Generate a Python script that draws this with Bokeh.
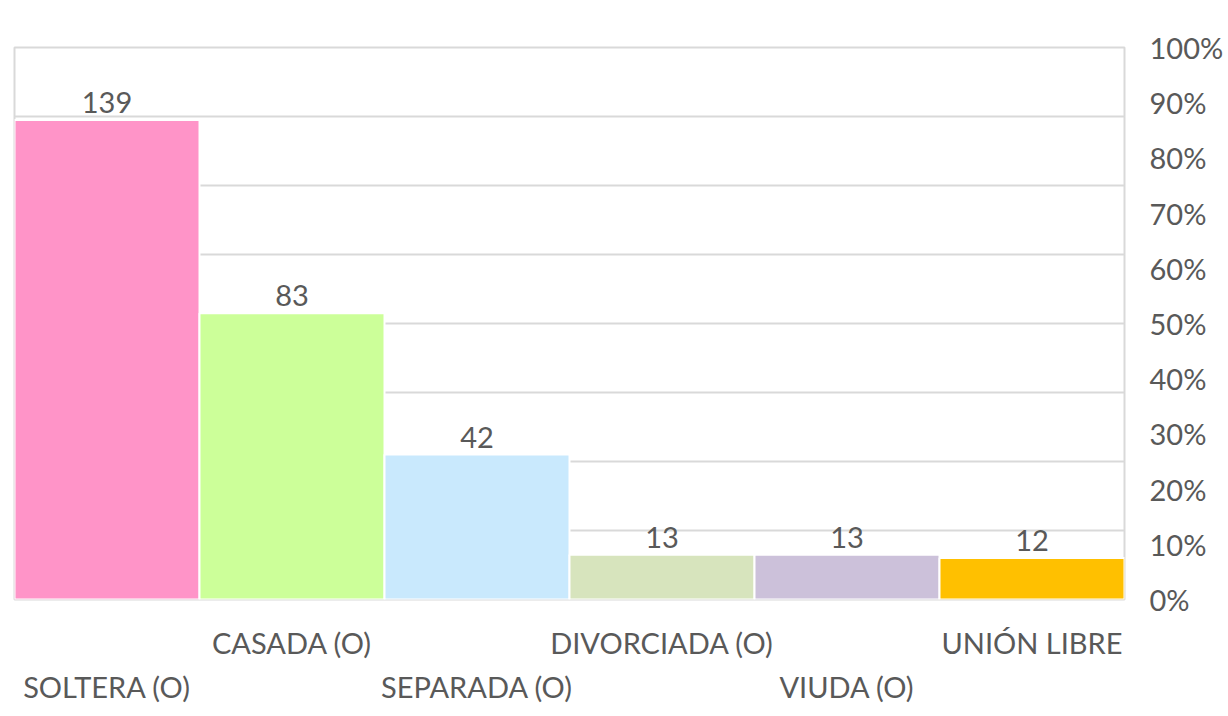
from bokeh.plotting import figure
from bokeh.models import (Range1d, LinearAxis, FixedTicker, NumeralTickFormatter,
                          ColumnDataSource, Grid, SingleIntervalTicker)
from bokeh.core.properties import value
from bokeh.embed import file_html
from bokeh.resources import INLINE

categories = ["SOLTERA (O)", "CASADA (O)", "SEPARADA (O)", "DIVORCIADA (O)", "VIUDA (O)", "UNIÓN LIBRE"]
counts = [139, 83, 42, 13, 13, 12]
colors = ["#FF94C8", "#CCFF99", "#C9E9FD", "#D7E4BD", "#CCC1DA", "#FFC000"]
count_max = 160
count_step = 20
pct_ticks = [0.0, 0.1, 0.2, 0.3, 0.4, 0.5, 0.6, 0.7, 0.8, 0.9, 1.0]

FONT = "Lato"
FS = "29px"
TXT = "#595959"
GRID = "#d9d9d9"

xs = [i + 0.5 for i in range(len(categories))]
src = ColumnDataSource(dict(x=xs, top=counts, color=colors, label=[str(c) for c in counts]))

p = figure(frame_width=1110, frame_height=552, output_backend="svg", toolbar_location=None,
           x_range=Range1d(0, len(categories)), y_range=Range1d(0, count_max),
           x_axis_location=None, y_axis_location=None,
           min_border_left=14, min_border_right=0, min_border_top=47, min_border_bottom=4,
           background_fill_color="white", border_fill_color="white")
p.outline_line_color = GRID
p.outline_line_width = 2

# remove any default grids
p.center = [r for r in p.center if not isinstance(r, Grid)]

grid = Grid(dimension=1, ticker=SingleIntervalTicker(interval=count_step),
            grid_line_color=GRID, grid_line_width=2)
p.add_layout(grid)

p.vbar(x="x", top="top", width=1.0, bottom=0, fill_color="color", line_color="white",
       line_width=2, source=src)
p.text(x="x", y="top", text="label", text_align="center", text_baseline="bottom",
       y_offset=-7, text_font=value(FONT), text_font_size=FS, text_color=TXT, source=src)

p.extra_y_ranges = {"pct": Range1d(0, 1)}
ax_r = LinearAxis(y_range_name="pct", ticker=FixedTicker(ticks=pct_ticks),
                  formatter=NumeralTickFormatter(format="0%"))
ax_r.axis_line_color = None
ax_r.major_tick_line_color = None
ax_r.minor_tick_line_color = None
ax_r.major_label_standoff = 19
ax_r.major_label_text_font = FONT
ax_r.major_label_text_font_size = FS
ax_r.major_label_text_color = TXT
p.add_layout(ax_r, "right")

upper_idx = [i for i in range(len(categories)) if i % 2 == 1]
lower_idx = [i for i in range(len(categories)) if i % 2 == 0]

def cat_axis(idx, standoff):
    ax = LinearAxis(ticker=FixedTicker(ticks=[xs[i] for i in idx]),
                    major_label_overrides={xs[i]: categories[i] for i in idx})
    ax.axis_line_color = None
    ax.major_tick_line_color = None
    ax.minor_tick_line_color = None
    ax.major_label_standoff = standoff
    ax.major_label_text_font = FONT
    ax.major_label_text_font_size = FS
    ax.major_label_text_color = TXT
    return ax

p.add_layout(cat_axis(upper_idx, 19), "below")
p.add_layout(cat_axis(lower_idx, 0), "below")

open("out.html", "w").write(file_html(p, INLINE))
